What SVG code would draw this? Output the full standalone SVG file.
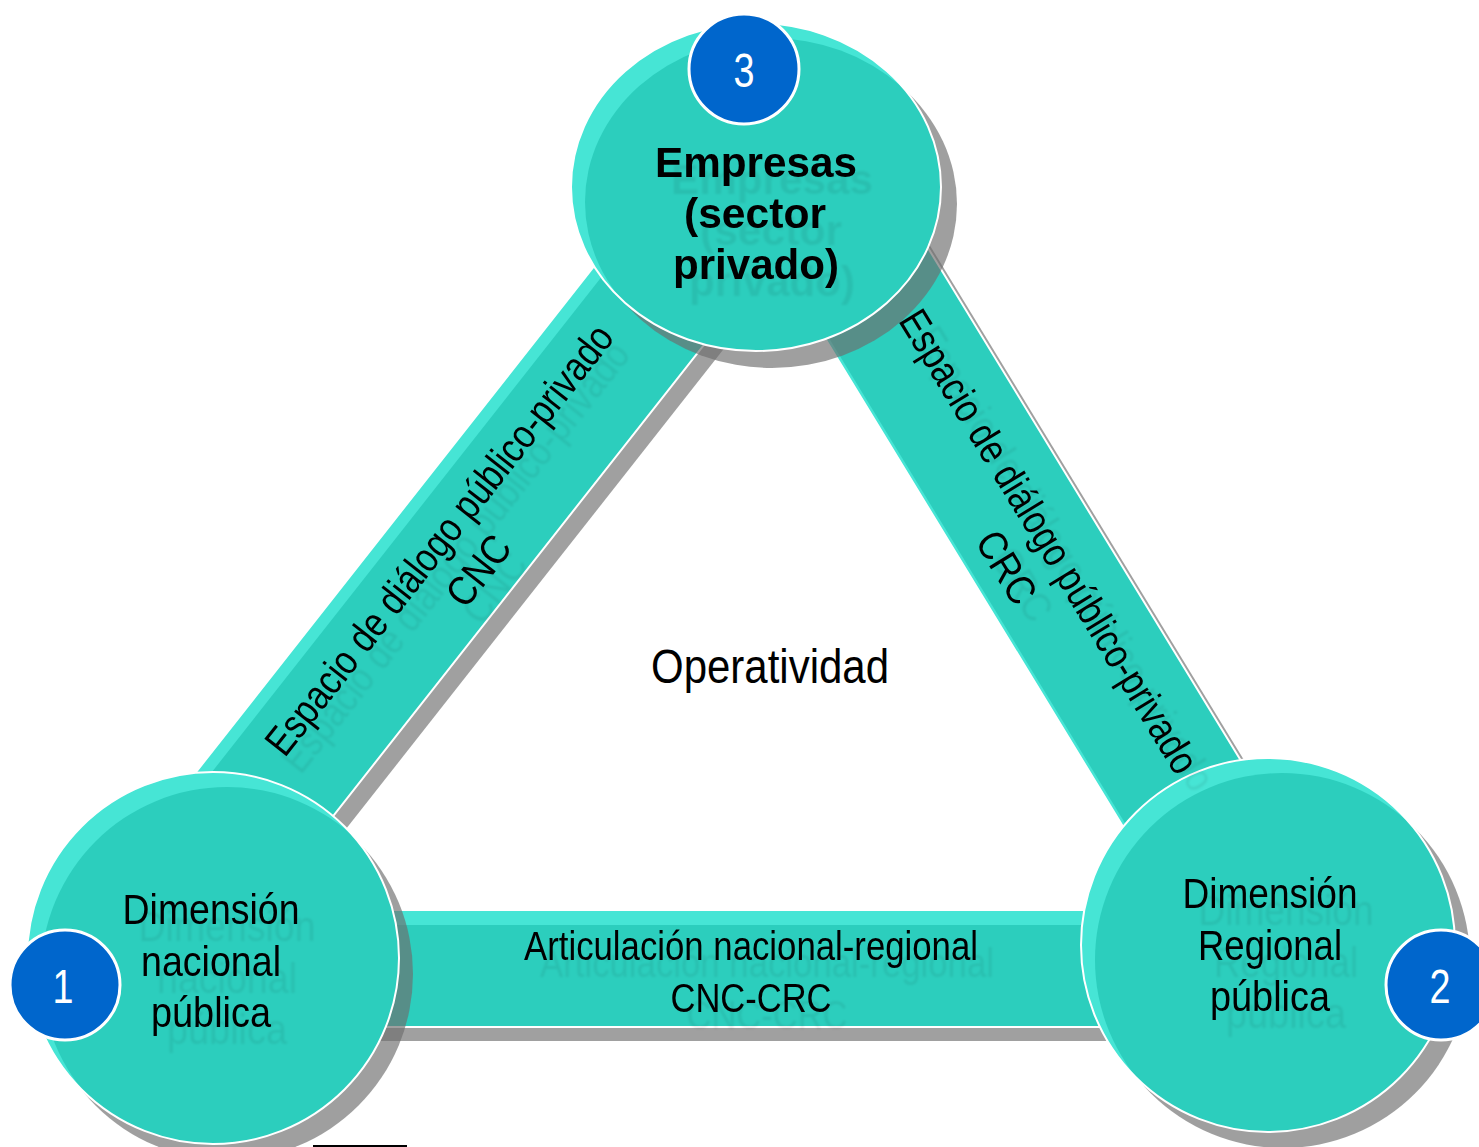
<svg xmlns="http://www.w3.org/2000/svg" width="1479" height="1147" viewBox="0 0 1479 1147">
  <style>
    .light { fill: #46e5d5; }
    .main { fill: #2ccebd; }
    .edge { fill: none; stroke: #ffffff; stroke-width: 2; }
    .bshadow { fill: #a0a0a0; }
    .cshadow { fill: #6e6e6e; fill-opacity: 0.66; }
    .narrow { font-family: "Liberation Sans Narrow", "Liberation Sans", Arial, sans-serif; fill: #000000; }
    .bold { font-family: "Liberation Sans", Arial, sans-serif; font-weight: bold; font-size: 42px; fill: #000000; }
    .ctext { font-size: 42px; text-anchor: middle; }
    .btext { font-size: 41px; text-anchor: middle; }
    .badge { fill: #0066cc; stroke: #ffffff; stroke-width: 3; }
    .num { font-family: "Liberation Sans Narrow", "Liberation Sans", Arial, sans-serif; font-size: 48px; fill: #ffffff; text-anchor: middle; }
  </style>
  <defs>
    <filter id="ghost" x="-30%" y="-60%" width="170%" height="260%">
      <feDropShadow dx="16" dy="17" stdDeviation="0.8" flood-color="#000000" flood-opacity="0.07"/>
    </filter>
    <clipPath id="clipTop"><ellipse cx="756" cy="187" rx="185" ry="164"/></clipPath>
    <clipPath id="clipLeft"><circle cx="213" cy="958" r="186"/></clipPath>
    <clipPath id="clipRight"><circle cx="1268" cy="945" r="187"/></clipPath>
  </defs>
  <rect x="0" y="0" width="1479" height="1147" fill="#ffffff"/>

  <!-- connectors (bars) -->
  <g id="connectors">
    <!-- shadows -->
    <g transform="translate(538.1 475.7) rotate(-51.8)"><rect class="bshadow" x="-520" y="-67.5" width="840" height="135"/></g>
    <g transform="translate(987.4 469.2) rotate(58.6)"><rect class="bshadow" x="-320" y="-67.5" width="860" height="135"/></g>
    <rect class="bshadow" x="342" y="924" width="820" height="117"/>

    <!-- left bar: CNC -->
    <g id="bar-cnc" transform="translate(526.1 461.7) rotate(-51.8)">
      <rect class="light" x="-520" y="-67.5" width="840" height="135"/>
      <rect class="main" x="-520" y="-55" width="840" height="122.5"/>
      <rect class="edge" x="-520" y="-67.5" width="840" height="135"/>
    </g>
    <!-- right bar: CRC -->
    <g id="bar-crc" transform="translate(975.4 455.2) rotate(58.6)">
      <rect class="light" x="-320" y="-67.5" width="860" height="135"/>
      <rect class="main" x="-320" y="-67.5" width="860" height="131.5"/>
      <rect class="edge" x="-320" y="-67.5" width="860" height="135"/>
    </g>
    <!-- bottom bar -->
    <g id="bar-cnc-crc">
      <rect class="light" x="330" y="910" width="820" height="117"/>
      <rect class="main" x="330" y="925" width="820" height="102"/>
      <rect class="edge" x="330" y="910" width="820" height="117"/>
    </g>
  </g>

  <!-- circle shadows -->
  <ellipse class="cshadow" cx="772" cy="204" rx="185" ry="164"/>
  <circle class="cshadow" cx="227" cy="974" r="186"/>
  <circle class="cshadow" cx="1283" cy="961" r="187"/>

  <!-- node 3: Empresas -->
  <g id="node-empresas">
    <ellipse class="light" cx="756" cy="187" rx="185" ry="164"/>
    <g clip-path="url(#clipTop)"><ellipse class="main" cx="770" cy="202" rx="185" ry="164"/></g>
    <ellipse class="edge" cx="756" cy="187" rx="185" ry="164"/>
    <g filter="url(#ghost)">
      <text class="bold" text-anchor="middle" x="756" y="177" textLength="202" lengthAdjust="spacingAndGlyphs">Empresas</text>
      <text class="bold" text-anchor="middle" x="755" y="228" textLength="142" lengthAdjust="spacingAndGlyphs">(sector</text>
      <text class="bold" text-anchor="middle" x="756" y="279" textLength="166" lengthAdjust="spacingAndGlyphs">privado)</text>
    </g>
    <circle class="badge" cx="744" cy="69" r="55"/>
    <text class="num" x="744" y="87" textLength="21" lengthAdjust="spacingAndGlyphs">3</text>
  </g>

  <!-- node 1: Dimensión nacional pública -->
  <g id="node-nacional">
    <circle class="light" cx="213" cy="958" r="186"/>
    <g clip-path="url(#clipLeft)"><circle class="main" cx="227" cy="973" r="186"/></g>
    <circle class="edge" cx="213" cy="958" r="186"/>
    <g filter="url(#ghost)">
      <text class="narrow ctext" x="211" y="924" textLength="177" lengthAdjust="spacingAndGlyphs">Dimensión</text>
      <text class="narrow ctext" x="211" y="976" textLength="140" lengthAdjust="spacingAndGlyphs">nacional</text>
      <text class="narrow ctext" x="211" y="1027" textLength="120" lengthAdjust="spacingAndGlyphs">pública</text>
    </g>
    <circle class="badge" cx="65" cy="985" r="55"/>
    <text class="num" x="63" y="1003" textLength="21" lengthAdjust="spacingAndGlyphs">1</text>
  </g>

  <!-- node 2: Dimensión Regional pública -->
  <g id="node-regional">
    <circle class="light" cx="1268" cy="945" r="187"/>
    <g clip-path="url(#clipRight)"><circle class="main" cx="1282" cy="960" r="187"/></g>
    <circle class="edge" cx="1268" cy="945" r="187"/>
    <g filter="url(#ghost)">
      <text class="narrow ctext" x="1270" y="908" textLength="175" lengthAdjust="spacingAndGlyphs">Dimensión</text>
      <text class="narrow ctext" x="1270" y="960" textLength="144" lengthAdjust="spacingAndGlyphs">Regional</text>
      <text class="narrow ctext" x="1270" y="1011" textLength="120" lengthAdjust="spacingAndGlyphs">pública</text>
    </g>
    <circle class="badge" cx="1441" cy="985" r="55"/>
    <text class="num" x="1440" y="1003" textLength="21" lengthAdjust="spacingAndGlyphs">2</text>
  </g>

  <!-- connector labels -->
  <g id="labels-connectors">
    <g filter="url(#ghost)">
      <g transform="translate(526.1 461.7) rotate(-51.8)">
        <text class="narrow btext" x="-115" y="-6" textLength="535" lengthAdjust="spacingAndGlyphs">Espacio de diálogo público-privado</text>
        <text class="narrow btext" x="-115" y="44" textLength="78" lengthAdjust="spacingAndGlyphs">CNC</text>
      </g>
    </g>
    <g filter="url(#ghost)">
      <g transform="translate(975.4 455.2) rotate(58.6)">
        <text class="narrow btext" x="112" y="-4" textLength="535" lengthAdjust="spacingAndGlyphs">Espacio de diálogo público-privado</text>
        <text class="narrow btext" x="112" y="46" textLength="78" lengthAdjust="spacingAndGlyphs">CRC</text>
      </g>
    </g>
    <g filter="url(#ghost)">
      <text class="narrow btext" x="751" y="960" textLength="454" lengthAdjust="spacingAndGlyphs">Articulación nacional-regional</text>
      <text class="narrow btext" x="751" y="1012" textLength="161" lengthAdjust="spacingAndGlyphs">CNC-CRC</text>
    </g>
  </g>

  <!-- centre label -->
  <g id="label-operatividad">
    <text class="narrow" x="770" y="683" font-size="48" text-anchor="middle" textLength="238" lengthAdjust="spacingAndGlyphs">Operatividad</text>
  </g>

  <line x1="313" y1="1146" x2="407" y2="1146" stroke="#000000" stroke-width="2"/>
</svg>
